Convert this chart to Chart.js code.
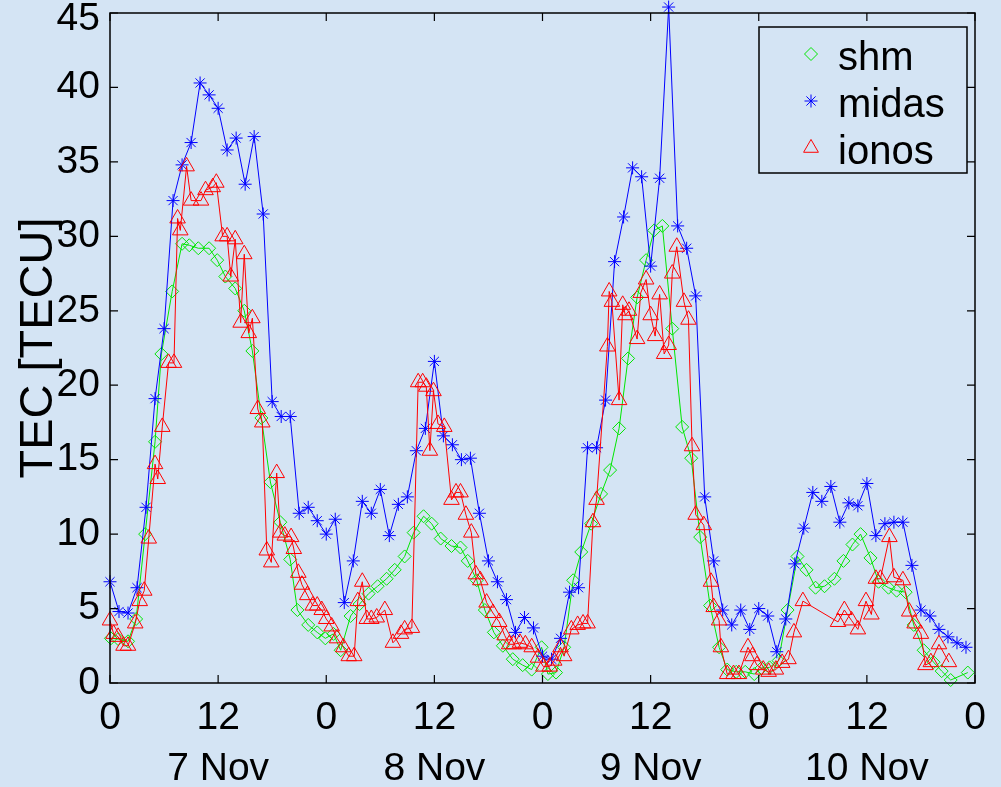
<!DOCTYPE html>
<html>
<head>
<meta charset="utf-8">
<title>TEC 7-10 Nov</title>
<script src="https://cdn.jsdelivr.net/npm/chart.js@4.4.1/dist/chart.umd.min.js"></script>
<style>
  html, body { margin: 0; padding: 0; background: #d4e4f4; }
  #wrap { width: 1001px; height: 787px; position: relative; }
  canvas { display: block; }
</style>
</head>
<body>
<div id="wrap"><canvas id="tec" width="1001" height="787"></canvas></div>
<script>
// Day names shown under the noon ticks
const dayLabels = ['7 Nov', '8 Nov', '9 Nov', '10 Nov'];
// Hour-of-day labels on the time axis (every 12 h)
const hourLabels = ['0', '12'];
// Series names
const seriesNames = ['shm', 'midas', 'ionos'];

// shm model: time [h since 7 Nov 00 UT] and TEC [TECU]
const shmHours = [0.1, 0.9, 2.0, 2.9, 3.9, 5.0, 5.7, 6.9, 8.0, 8.8, 9.8, 11.0, 11.9, 12.8,
  13.9, 14.9, 15.8, 16.8, 17.8, 18.9, 20.0, 20.8, 22.0, 23.0, 23.9, 24.8, 25.6, 26.7, 27.7,
  28.7, 29.7, 30.7, 31.6, 32.7, 33.7, 34.8, 35.7, 36.7, 37.9, 38.9, 39.7, 40.7, 41.6, 42.6,
  43.6, 44.7, 45.8, 46.8, 47.9, 48.6, 49.5, 50.4, 51.4, 52.3, 53.4, 54.5, 55.5, 56.5, 57.5,
  58.5, 59.5, 60.4, 61.3, 62.4, 63.5, 64.5, 65.5, 66.6, 67.6, 68.5, 69.5, 70.5, 71.5, 72.3,
  73.2, 74.2, 75.2, 76.3, 77.3, 78.3, 79.3, 80.4, 81.4, 82.4, 83.3, 84.4, 85.3, 86.4, 87.3,
  88.3, 89.2, 90.3, 91.4, 92.3, 93.3, 95.2];
const shmTec = [3.0, 2.95, 2.8, 4.3, 10.0, 16.2, 22.1, 26.3, 29.5, 29.4, 29.2, 29.2, 28.4, 27.3,
  26.5, 25.0, 22.3, 17.8, 13.5, 10.8, 8.3, 4.9, 3.9, 3.4, 3.0, 3.3, 2.2, 4.5, 5.3,
  6.0, 6.5, 7.0, 7.6, 8.5, 10.1, 11.2, 10.7, 9.7, 9.2, 9.1, 8.2, 6.9, 4.9, 3.4,
  2.5, 1.6, 1.2, 0.9, 2.4, 0.6, 0.7, 2.4, 6.9, 8.8, 10.7, 12.7, 14.3, 17.1, 21.8,
  25.9, 28.4, 30.4, 30.7, 23.8, 17.2, 15.1, 9.8, 5.2, 2.4, 0.9, 0.75, 0.75, 0.6, 1.0,
  1.05, 1.5, 4.9, 8.5, 7.6, 6.4, 6.5, 7.0, 8.2, 9.3, 10.0, 8.4, 6.8, 6.4, 6.2,
  6.1, 3.9, 2.2, 1.4, 0.8, 0.2, 0.7];

// midas: hourly TEC [TECU], starting 7 Nov 00 UT
const midasTec = [6.8, 4.8, 4.7, 6.4, 11.8, 19.1, 23.8, 32.4, 34.8, 36.3,
  40.3, 39.5, 38.6, 35.8, 36.6, 33.5, 36.7, 31.5, 18.9, 17.9,
  17.9, 11.4, 11.8, 10.9, 10.0, 11.0, 5.4, 8.2, 12.2, 11.4,
  13.0, 9.9, 12.0, 12.5, 15.6, 17.1, 21.6, 16.6, 16.0, 15.0,
  15.1, 11.4, 8.2, 6.8, 5.6, 3.4, 4.4, 3.7, 1.8, 1.6,
  3.0, 6.1, 6.4, 15.8, 15.8, 19.0, 28.3, 31.3, 34.6, 34.0,
  28.0, 33.9, 45.4, 30.7, 29.2, 26.0, 12.5, 8.2, 4.9, 3.9,
  4.9, 3.6, 5.0, 4.5, 2.1, 4.3, 8.0, 10.4, 12.8, 12.2,
  13.2, 10.8, 12.1, 11.9, 13.4, 9.9, 10.7, 10.8, 10.8, 7.9,
  4.9, 4.5, 3.6, 3.1, 2.7, 2.4];
const midasHours = midasTec.map((_, i) => i);

// ionos: time [h] and TEC [TECU]
const ionosHours = [0.0, 0.4, 0.9, 1.5, 2.0, 2.8, 3.3, 3.8, 4.3, 5.0, 5.3, 5.8, 6.5, 7.1, 7.5,
  7.8, 8.5, 9.0, 10.1, 10.6, 11.4, 11.8, 12.5, 13.0, 13.4, 13.9, 14.5, 14.9, 15.4, 15.8,
  16.4, 16.9, 17.4, 17.9, 18.5, 18.9, 19.4, 20.1, 20.4, 20.9, 21.3, 21.9, 22.5, 23.0, 23.5,
  24.0, 24.6, 25.2, 25.9, 26.5, 27.1, 27.5, 28.0, 28.5, 29.0, 29.6, 30.5, 31.4, 32.3, 32.7,
  33.5, 34.2, 34.7, 35.1, 35.5, 35.9, 36.4, 37.1, 37.9, 38.4, 38.9, 39.5, 40.1, 40.6, 41.1,
  41.8, 42.5, 43.2, 43.8, 44.3, 44.8, 45.5, 46.1, 46.8, 47.5, 48.1, 48.8, 49.3, 50.0, 50.4,
  51.2, 51.9, 52.5, 53.0, 53.6, 54.0, 55.2, 55.4, 55.7, 56.5, 56.9, 57.2, 57.6, 58.5, 58.9,
  59.5, 60.0, 60.5, 61.0, 61.5, 62.0, 62.4, 62.9, 63.7, 64.2, 64.6, 65.0, 65.9, 66.7, 67.0,
  67.6, 67.8, 68.5, 69.2, 69.8, 70.8, 71.3, 71.8, 72.5, 73.1, 73.9, 74.6, 75.3, 75.9, 76.9,
  80.8, 81.5, 82.3, 83.0, 83.9, 84.5, 85.0, 85.5, 86.5, 87.0, 88.0, 88.7, 89.3, 90.0, 90.5,
  91.1, 92.0, 93.1];
const ionosTec = [4.2, 3.3, 3.1, 2.5, 2.5, 4.0, 5.5, 6.2, 9.7, 14.7, 13.7, 17.2, 21.5, 21.5, 31.2,
  30.4, 34.7, 32.4, 32.4, 33.1, 33.3, 33.6, 30.0, 30.0, 27.3, 29.8, 24.2, 28.8, 23.5, 24.5,
  18.4, 17.5, 8.9, 8.1, 14.1, 10.1, 9.9, 9.8, 9.0, 7.4, 6.6, 5.9, 5.2, 5.2, 4.9,
  4.3, 3.8, 3.0, 2.4, 1.8, 1.8, 5.5, 6.8, 4.3, 4.3, 4.4, 4.9, 2.7, 3.3, 3.6,
  3.7, 20.2, 20.2, 19.9, 15.6, 19.6, 17.4, 17.2, 12.3, 12.8, 12.8, 11.3, 10.1, 7.3, 6.9,
  5.4, 4.7, 4.1, 3.2, 2.6, 2.6, 2.7, 2.6, 2.4, 1.7, 1.1, 1.1, 1.5, 2.4, 1.8,
  3.6, 3.9, 4.0, 4.0, 10.8, 12.3, 22.6, 26.3, 25.6, 19.0, 25.4, 24.7, 25.0, 23.1, 26.2,
  27.1, 24.7, 23.3, 26.1, 22.1, 22.7, 27.5, 29.3, 25.6, 24.4, 15.9, 11.3, 10.6, 6.8, 5.1,
  4.2, 2.4, 0.6, 0.6, 0.6, 2.4, 1.8, 1.2, 0.9, 0.75, 0.9, 1.35, 1.6, 3.4, 5.5,
  4.1, 4.9, 4.2, 3.6, 5.5, 4.6, 7.0, 7.0, 9.8, 7.1, 6.9, 4.8, 4.0, 3.3, 1.2,
  1.4, 2.6, 1.4];

const toPoints = (xs, ys) => xs.map((x, i) => ({ x: x, y: ys[i] }));

const FONT = 'Liberation Sans, Arial, Helvetica, sans-serif';
const TICK_FONT_SIZE = 39;
const styles = [
  { color: '#00e600', pointStyle: 'rectRot', radius: 6.5 },
  { color: '#0000ff', pointStyle: 'star', radius: 6.5 },
  { color: '#ff0000', pointStyle: 'triangle', radius: 9 }
];

function makeDataset(idx, points, order) {
  const s = styles[idx];
  return {
    label: seriesNames[idx],
    data: points,
    showLine: true,
    tension: 0,
    borderColor: s.color,
    borderWidth: 1,
    pointStyle: s.pointStyle,
    pointRadius: s.radius,
    pointHoverRadius: s.radius,
    pointBorderColor: s.color,
    pointBackgroundColor: 'rgba(0,0,0,0)',
    pointBorderWidth: 1,
    clip: false,
    order: order
  };
}

// Box around the axes with inward-pointing ticks on all four sides
const framePlugin = {
  id: 'frame',
  afterDatasetsDraw(chart) {
    const { ctx, chartArea: a, scales } = chart;
    const len = 8;
    ctx.save();
    ctx.strokeStyle = '#000';
    ctx.lineWidth = 1.5;
    ctx.strokeRect(a.left, a.top, a.right - a.left, a.bottom - a.top);
    ctx.lineWidth = 1.2;
    ctx.beginPath();
    scales.x.ticks.forEach(t => {
      const px = scales.x.getPixelForValue(t.value);
      ctx.moveTo(px, a.bottom); ctx.lineTo(px, a.bottom - len);
      ctx.moveTo(px, a.top); ctx.lineTo(px, a.top + len);
    });
    scales.y.ticks.forEach(t => {
      const py = scales.y.getPixelForValue(t.value);
      ctx.moveTo(a.left, py); ctx.lineTo(a.left + len, py);
      ctx.moveTo(a.right, py); ctx.lineTo(a.right - len, py);
    });
    ctx.stroke();
    ctx.restore();
  },
  // The topmost y label is kept inside the canvas instead of being cut at its edge
  afterDraw(chart) {
    const { ctx } = chart;
    const y = chart.scales.y;
    const top = y.ticks[y.ticks.length - 1];
    const half = TICK_FONT_SIZE * 0.5;
    ctx.save();
    ctx.font = TICK_FONT_SIZE + 'px ' + FONT;
    ctx.fillStyle = '#000';
    ctx.textAlign = 'right';
    ctx.textBaseline = 'middle';
    ctx.fillText(String(top.value), y.right - y.options.ticks.padding,
      Math.max(y.getPixelForValue(top.value), half));
    ctx.restore();
  }
};

// Boxed legend in the upper-right corner of the axes
const boxLegendPlugin = {
  id: 'boxLegend',
  afterDraw(chart) {
    const { ctx, chartArea: a } = chart;
    const boxW = 208, boxH = 146;
    const bx = a.right - 8 - boxW, by = a.top + 14;
    ctx.save();
    ctx.strokeStyle = '#000';
    ctx.lineWidth = 1.5;
    ctx.strokeRect(bx, by, boxW, boxH);
    ctx.font = '40px ' + FONT;
    ctx.textAlign = 'left';
    ctx.textBaseline = 'alphabetic';
    const rowH = 47;
    chart.data.datasets.forEach((ds, i) => {
      const s = styles[i];
      const cy = by + 27 + i * rowH;
      ctx.strokeStyle = s.color;
      ctx.fillStyle = 'rgba(0,0,0,0)';
      ctx.lineWidth = 1;
      Chart.helpers.drawPoint(ctx, {
        pointStyle: s.pointStyle, radius: s.radius * (i === 2 ? 0.95 : 1),
        rotation: 0, borderWidth: 1
      }, bx + 52, cy);
      ctx.fillStyle = '#000';
      ctx.fillText(ds.label, bx + 79, cy + 16);
    });
    ctx.restore();
  }
};

new Chart(document.getElementById('tec'), {
  type: 'scatter',
  data: {
    datasets: [
      makeDataset(0, toPoints(shmHours, shmTec), 3),
      makeDataset(1, toPoints(midasHours, midasTec), 2),
      makeDataset(2, toPoints(ionosHours, ionosTec), 1)
    ]
  },
  options: {
    responsive: false,
    devicePixelRatio: 1,
    animation: false,
    events: [],
    layout: { padding: { left: 0, right: 26, top: 13, bottom: 0 } },
    plugins: { legend: { display: false }, tooltip: { enabled: false } },
    scales: {
      x: {
        type: 'linear',
        min: 0, max: 96,
        grid: { display: false, drawTicks: false },
        border: { display: false },
        afterFit(scale) { scale.height = 104; scale.paddingLeft = 0; scale.paddingRight = 0; },
        ticks: {
          stepSize: 12,
          autoSkip: false,
          maxRotation: 0,
          padding: 10,
          color: '#000',
          font: { family: FONT, size: TICK_FONT_SIZE, lineHeight: 1.3 },
          callback(value) {
            const h = Math.round(value);
            if (h % 24 === 12) return [hourLabels[1], dayLabels[Math.floor(h / 24)]];
            return hourLabels[0];
          }
        }
      },
      y: {
        type: 'linear',
        min: 0, max: 45,
        grid: { display: false, drawTicks: false },
        border: { display: false },
        afterFit(scale) { scale.width = 110; scale.paddingTop = 0; scale.paddingBottom = 0; },
        ticks: {
          stepSize: 5,
          padding: 10,
          color: '#000',
          font: { family: FONT, size: TICK_FONT_SIZE },
          // the top label is drawn by the frame plugin
          callback(value, index, ticks) {
            return index === ticks.length - 1 ? '' : String(value);
          }
        },
        title: {
          display: true,
          text: 'TEC [TECU]',
          color: '#000',
          font: { family: FONT, size: 47 },
          padding: { top: 11, bottom: 0 }
        }
      }
    }
  },
  plugins: [framePlugin, boxLegendPlugin]
});
</script>
</body>
</html>
